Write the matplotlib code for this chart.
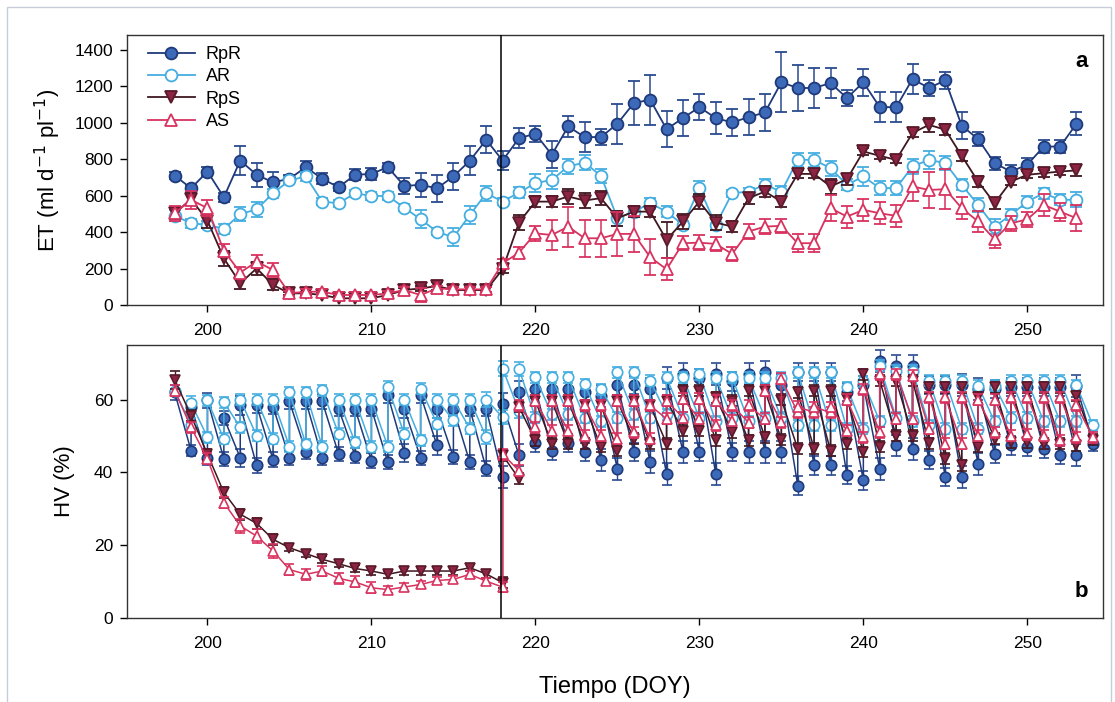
import numpy as np
import matplotlib
matplotlib.use("Agg")
import matplotlib.pyplot as plt
from matplotlib.patches import Rectangle
from matplotlib.lines import Line2D

plt.rcParams['font.family'] = ['Liberation Sans', 'DejaVu Sans']

# ---- Datos ----
dias_et = list(range(198, 254))          # DOY 198..253
dias_hv = list(range(198, 255))          # DOY 198..254
doy_riego = 218                          # linea vertical (cambio de tratamiento)

series = ["RpR", "AR", "RpS", "AS"]

# ET (ml d-1 pl-1)
et_rpr = [710, 640, 732, 591, 792, 714, 673, 692, 756, 692, 646, 714, 719, 756, 653, 659, 640, 705, 791, 906,
          792, 915, 939, 824, 979, 921, 921, 994, 1107, 1126, 964, 1025, 1085, 1025, 1001, 1030, 1056, 1221, 1190, 1190,
          1217, 1135, 1221, 1085, 1085, 1239, 1190, 1232, 983, 910, 778, 732, 769, 869, 869, 994]
et_ar = [490, 448, 440, 417, 498, 525, 613, 683, 705, 567, 558, 613, 598, 598, 534, 470, 402, 371, 493, 613,
         567, 617, 668, 686, 760, 781, 708, 476, 512, 558, 512, 439, 641, 439, 613, 622, 659, 622, 796, 796,
         750, 659, 705, 641, 641, 760, 796, 778, 659, 549, 430, 494, 567, 613, 577, 577]
et_rps = [503, 580, 463, 256, 119, 201, 110, 64, 64, 55, 37, 37, 37, 55, 82, 91, 104, 82, 82, 82,
          196, 452, 567, 567, 595, 573, 586, 476, 512, 512, 357, 458, 567, 452, 430, 586, 622, 567, 719, 719,
          650, 690, 842, 818, 796, 943, 988, 961, 818, 677, 558, 677, 714, 723, 732, 738]
et_as = [503, 577, 531, 298, 178, 238, 192, 64, 73, 73, 55, 55, 55, 64, 82, 55, 91, 86, 86, 86,
         229, 287, 393, 384, 430, 366, 366, 390, 390, 262, 196, 339, 342, 335, 280, 403, 430, 434, 339, 339,
         531, 485, 522, 503, 489, 650, 631, 635, 531, 458, 361, 448, 470, 549, 512, 476]

et_rpr_err = [20, 20, 25, 25, 80, 65, 55, 20, 35, 30, 20, 30, 35, 25, 45, 65, 75, 75, 80, 75,
              50, 55, 45, 73, 55, 80, 45, 110, 120, 137, 100, 100, 73, 90, 73, 100, 100, 165, 128, 110,
              82, 45, 73, 82, 82, 82, 45, 45, 73, 36, 36, 36, 36, 36, 36, 64]
et_ar_err = [30, 25, 20, 25, 40, 40, 25, 20, 25, 20, 20, 20, 20, 20, 20, 50, 20, 50, 50, 40,
             20, 30, 50, 50, 40, 40, 40, 40, 30, 30, 30, 20, 40, 30, 20, 20, 30, 30, 40, 40,
             40, 30, 50, 40, 40, 40, 50, 40, 30, 40, 40, 30, 30, 30, 30, 40]
et_rps_err = [30, 30, 40, 40, 30, 35, 30, 10, 10, 10, 10, 10, 10, 10, 12, 15, 20, 15, 15, 15,
              20, 40, 30, 30, 40, 40, 40, 40, 30, 30, 100, 40, 40, 40, 30, 30, 30, 30, 20, 20,
              40, 30, 20, 20, 20, 20, 40, 30, 30, 30, 30, 20, 20, 20, 20, 30]
et_as_err = [40, 50, 45, 35, 30, 35, 40, 15, 15, 15, 15, 15, 15, 15, 15, 40, 15, 15, 15, 15,
             25, 30, 40, 80, 110, 100, 100, 120, 100, 100, 60, 40, 40, 40, 40, 40, 40, 40, 50, 50,
             70, 60, 60, 60, 60, 80, 100, 110, 60, 60, 50, 40, 40, 60, 50, 70]

# HV (%): antes (lo) y despues (hi) del riego, NaN = sin riego
nan = np.nan
hv_rpr_lo = [62, 46, 44, 43.7, 44, 41.9, 43.5, 44, 45.7, 44, 45, 44.6, 43.2, 42.8, 45.4, 44, 47.4, 44.2, 42.8, 41,
             38.7, 44.7, 48, 46, 48, 45.6, 43.3, 41, 45.6, 42.8, 39.6, 45.6, 45.6, 39.6, 45.6, 45.6, 45.6, 45.6, 36.4, 41.9,
             41.9, 39.2, 37.8, 41, 47.4, 46.5, 43.3, 38.7, 38.7, 42.4, 45.1, 47.4, 47, 46.5, 44.7, 44.7, 47.9]
hv_rpr_hi = [nan, 58, 59.8, 55, 58.4, 58.4, 58, 59.5, 59.5, 59.5, 57.5, 57.5, 57.5, 61.2, 57.5, 61.2, 57.5, 57.5, 57.5, 57.5,
             58.8, 62, 63, 63, 63, 62, 61, 64, 64, 63, 66, 67, 66, 67, 65, 67, 67.5, 64, 67.5, 67.5,
             67.5, 62, 64, 70.5, 69.3, 69.3, 64, 64, 64, 63, 63, 63.5, 63.5, 63.5, 63.5, 63.8, nan]
hv_ar_lo = [62.5, 53, 49.7, 49.2, 52.4, 50.1, 49.2, 47.1, 47.8, 47.1, 50.6, 48.3, 47.1, 47.1, 50.6, 48.8, 53.4, 54.3, 52, 49.7,
            55.2, 57, 55, 56, 56, 55, 54, 55, 56, 55, 56, 55, 55, 54, 55, 54, 55, 55, 53, 53,
            53, 52, 52, 54, 55, 54, 53, 52, 52, 52, 54, 55, 55, 54, 54, 54, 52.9]
hv_ar_hi = [nan, 59, 59.8, 59.3, 60, 60, 60, 62, 62, 62.6, 60, 60, 60, 63.5, 60, 63, 60, 60, 60, 60,
            68.5, 68.4, 66.1, 66.1, 66.1, 64.3, 62.9, 67.5, 67.5, 65.2, 66.1, 66.1, 67, 66, 66.1, 66, 66, 66, 67.5, 67.5,
            67.5, 63.4, 65, 69.3, 68, 68, 65.2, 65.2, 65.2, 63.8, 63.8, 65.2, 65.2, 65.2, 65.2, 64, nan]
hv_rps_lo = [65.5, 55.6, 45, 34.5, 28.5, 26, 21.6, 19.3, 17.7, 16.1, 14.9, 13.6, 12.9, 12, 12.9, 12.9, 12.9, 12.9, 13.8, 12.1,
             9.7, 38.3, 48.8, 47.9, 47.9, 47.9, 47, 46, 49.2, 47.9, 47.9, 51.5, 51.5, 48.8, 51, 48.8, 49.7, 49, 46.5, 46.5,
             46, 47.9, 45.6, 47, 50.1, 50.1, 48, 43.7, 41.9, 47, 49.2, 48.3, 48.3, 47.9, 47.9, 47.5, 49]
hv_rps_hi = [nan] * 20 + [
             44.7, 58, 59.7, 59.7, 59.7, 58.4, 58.4, 59.7, 59.7, 58.4, 59.7, 62.5, 62.5, 60.6, 59.7, 62.5, 62.5, 60, 62, 62.5,
             62.5, 60.2, 67, 65.2, 65.2, 65.2, 63.4, 63.4, 63.4, 60.6, 63.4, 63.4, 63.4, 63.4, 63.4, 61, nan]
hv_as_lo = [62.5, 52.4, 43.7, 31.7, 25.3, 22.5, 18.4, 13.3, 12, 12.9, 10.9, 9.9, 8.3, 7.8, 8.5, 9.2, 10.3, 10.6, 12, 10.1,
            8.5, 40.5, 52.4, 51.5, 51.5, 50.1, 50.1, 49.2, 51, 49.2, 54.7, 55, 54.7, 52.9, 54.2, 53.7, 54.7, 53.8, 56.5, 56.5,
            56.5, 51.5, 49.7, 51, 54.7, 54.7, 52, 47.9, 47.9, 50.1, 51, 50.1, 50.5, 50.1, 48.8, 49.7, 49.7]
hv_as_hi = [nan] * 20 + [
            45, 58.4, 59.7, 59.7, 59.7, 58.4, 58.4, 59.7, 59.7, 58.4, 59.7, 60.2, 60.2, 59.7, 58.4, 58.4, 62.5, 65.7, 58, 57.9,
            57.9, 60, 62.9, 67, 67, 66.6, 60.6, 60.6, 60.6, 60, 60, 60.6, 60.6, 60.6, 60.6, 58.4, nan]

hv_rpr_err = [2, 1.5, 2, 2, 2.5, 2, 2, 2, 2, 2, 2, 2, 2, 2, 2.5, 2, 2.5, 2, 2, 2,
              3, 3, 2.5, 2.5, 2.5, 2.5, 3, 3, 2.5, 3, 3, 3, 2.5, 3, 2.5, 3, 3, 3, 2.5, 2.5,
              2.5, 2.5, 2.5, 3, 3, 3, 2.5, 2.5, 3, 3, 2.5, 2.5, 2.5, 2.5, 2.5, 3, 2]
hv_ar_err = [1.5, 2, 1.5, 1.5, 1.5, 1.5, 1.5, 1.5, 1.5, 1.5, 1.5, 1.5, 1.5, 1.5, 1.5, 1.5, 1.5, 1.5, 1.5, 2,
             2, 2, 1.5, 1.5, 1.5, 1.5, 1.5, 1.5, 1.5, 1.5, 1.5, 1.5, 1.5, 1.5, 1.5, 1.5, 1.5, 1.5, 1.5, 1.5,
             1.5, 1.5, 1.5, 1.5, 1.5, 1.5, 1.5, 1.5, 1.5, 1.5, 1.5, 1.5, 1.5, 1.5, 1.5, 1.5, 1.5]
hv_rps_err = [2.5, 1.5, 1.5, 1.5, 1.5, 1.5, 1.5, 1, 1, 1, 1, 1, 1, 1, 1, 1, 1, 1, 1, 1,
              1.5, 1.5, 1.5, 1.5, 1.5, 1.5, 1.5, 1.5, 1.5, 1.5, 1.5, 1.5, 1.5, 1.5, 1.5, 1.5, 1.5, 1.5, 1.5, 1.5,
              1.5, 1.5, 1.5, 1.5, 1.5, 1.5, 1.5, 1.5, 1.5, 1.5, 1.5, 1.5, 1.5, 1.5, 1.5, 1.5, 1.5]
hv_as_err = [1.5, 1.5, 1.5, 1.5, 2, 2, 2, 1.5, 1.5, 1.5, 1.5, 1.5, 1.5, 1, 1, 1, 1, 1, 1, 1,
             1.5, 1.5, 1.5, 1.5, 1.5, 1.5, 1.5, 1.5, 1.5, 1.5, 1.5, 1.5, 1.5, 1.5, 1.5, 1.5, 1.5, 1.5, 1.5, 1.5,
             1.5, 1.5, 1.5, 1.5, 1.5, 1.5, 1.5, 1.5, 1.5, 1.5, 1.5, 1.5, 1.5, 1.5, 1.5, 1.5, 1.5]

# ---- Estilos ----
estilos = {
    "RpR": dict(marker="o", color="#1f3a7a", mfc="#3d6ab8", mec="#1f3a7a", ecolor="#2a4a90"),
    "AR": dict(marker="o", color="#45aee0", mfc="white", mec="#45aee0", ecolor="#45aee0"),
    "RpS": dict(marker="v", color="#3f1720", mfc="#8c2444", mec="#5a1a2a", ecolor="#3f1720"),
    "AS": dict(marker="^", color="#d8325f", mfc="white", mec="#d8325f", ecolor="#d8325f"),
}


def intercalar(lo, hi, err):
    # puntos antes y despues del riego en el mismo dia
    x = np.repeat(dias_hv, 2).astype(float)
    y = np.column_stack([lo, hi]).ravel()
    e = np.repeat(err, 2)
    ok = ~np.isnan(y)
    return x[ok], y[ok], e[ok]


fig = plt.figure(figsize=(11.15, 7.02), dpi=100)
# marco claro alrededor (borde inferior fuera de la imagen)
fig.patches.append(Rectangle((0.006, -0.05), 0.99, 1.04, transform=fig.transFigure,
                             fill=False, edgecolor="#c8ccd8", lw=1.0))

ax1 = fig.add_axes([0.114, 0.5655, 0.875, 0.3845])
ax2 = fig.add_axes([0.114, 0.1197, 0.875, 0.3888])

# panel a: ET
datos_et = {"RpR": (et_rpr, et_rpr_err), "AR": (et_ar, et_ar_err),
            "RpS": (et_rps, et_rps_err), "AS": (et_as, et_as_err)}
handles = []
for i, s in enumerate(series):
    y, e = datos_et[s]
    st = estilos[s]
    ax1.errorbar(dias_et, y, yerr=e, marker=st["marker"], color=st["color"], mfc=st["mfc"],
                 mec=st["mec"], mew=1.3, ms=8.5, lw=1.3, ecolor=st["ecolor"], elinewidth=1.1,
                 capsize=4, capthick=1.1, zorder=3 + i)
    handles.append(Line2D([], [], marker=st["marker"], color=st["color"], mfc=st["mfc"],
                          mec=st["mec"], mew=1.3, ms=8.5, lw=1.3, label=s))

# panel b: HV
datos_hv = {"RpR": (hv_rpr_lo, hv_rpr_hi, hv_rpr_err), "AR": (hv_ar_lo, hv_ar_hi, hv_ar_err),
            "RpS": (hv_rps_lo, hv_rps_hi, hv_rps_err), "AS": (hv_as_lo, hv_as_hi, hv_as_err)}
for i, s in enumerate(series):
    x, y, e = intercalar(*datos_hv[s])
    st = estilos[s]
    ax2.errorbar(x, y, yerr=e, marker=st["marker"], color=st["color"], mfc=st["mfc"],
                 mec=st["mec"], mew=1.2, ms=7.5, lw=1.1, ecolor=st["ecolor"], elinewidth=1.0,
                 capsize=3.5, capthick=1.0, zorder=3 + i)

for ax in (ax1, ax2):
    ax.axvline(doy_riego - 0.1, color="black", lw=1.1, zorder=10)
    ax.set_xlim(195.1, 254.6)
    ax.set_xticks(range(200, 251, 10))
    ax.tick_params(direction="out", length=5, width=1, labelsize=12.5, pad=8)
    for sp in ax.spines.values():
        sp.set_linewidth(1.0)
        sp.set_color("#333333")

ax1.set_ylim(0, 1480)
ax1.set_yticks(range(0, 1401, 200))
ax1.tick_params(axis="y", pad=5)
ax1.set_ylabel("ET (ml d$^{-1}$ pl$^{-1}$)", fontsize=16, labelpad=8)
ax1.text(0.985, 0.94, "a", transform=ax1.transAxes, fontsize=16, fontweight="bold",
         ha="right", va="top")
ax1.legend(handles=handles, loc="upper left", frameon=False, fontsize=13, handlelength=2.6,
           handletextpad=0.6, borderaxespad=0.2, labelspacing=0.3, bbox_to_anchor=(0.01, 1.0))

ax2.set_ylim(0, 75)
ax2.set_yticks([0, 20, 40, 60])
ax2.tick_params(axis="y", pad=5)
ax2.set_ylabel("HV (%)", fontsize=16, labelpad=14)
ax2.set_xlabel("Tiempo (DOY)", fontsize=17, labelpad=18)
ax2.text(0.985, 0.06, "b", transform=ax2.transAxes, fontsize=16, fontweight="bold",
         ha="right", va="bottom")

fig.savefig("out.png", dpi=100)
